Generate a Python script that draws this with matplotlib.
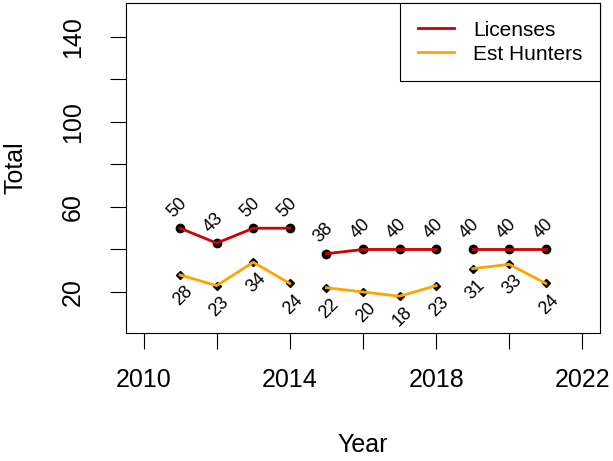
import numpy as np
import matplotlib.pyplot as plt

plt.rcParams['font.family'] = ['Liberation Sans', 'DejaVu Sans']

# three segments of years (gaps between them)
years = [[2011, 2012, 2013, 2014], [2015, 2016, 2017, 2018], [2019, 2020, 2021]]
licenses = [[50, 43, 50, 50], [38, 40, 40, 40], [40, 40, 40]]
hunters = [[28, 23, 34, 24], [22, 20, 18, 23], [31, 33, 24]]

red = '#CD0000'
orange = '#FFA500'

fig = plt.figure(figsize=(6.13, 4.61), dpi=100)
ax = fig.add_axes([0.2055, 0.2777, 0.7733, 0.7158])

for i, (yr, lic, hun) in enumerate(zip(years, licenses, hunters)):
    ax.plot(yr, lic, color='black', marker='o', ms=6, lw=0, zorder=2)
    ax.plot(yr, lic, color=red, lw=2, zorder=3, label='Licenses' if i == 0 else None)
    ax.plot(yr, hun, color='black', marker='D', ms=4, lw=0, zorder=2)
    ax.plot(yr, hun, color=orange, lw=2, zorder=3, label='Est Hunters' if i == 0 else None)
    for x, v in zip(yr, lic):
        ax.annotate(str(v), (x, v), xytext=(-2, 15), textcoords='offset points',
                    ha='center', va='center', rotation=45, fontsize=13)
    for x, v in zip(yr, hun):
        ax.annotate(str(v), (x, v), xytext=(2, -15), textcoords='offset points',
                    ha='center', va='center', rotation=45, fontsize=13)

ax.set_xlim(2009.52, 2022.48)
ax.set_ylim(0.7, 156)
ax.set_xticks(np.arange(2010, 2023, 2))
ax.set_xticklabels(['2010', '', '2014', '', '2018', '', '2022'])
ax.set_yticks(np.arange(20, 141, 20))
ax.set_yticklabels(['20', '', '60', '', '100', '', '140'], rotation=90, va='center')
ax.tick_params(labelsize=18, length=11.5, width=0.8)
ax.tick_params(axis='x', pad=14)
ax.tick_params(axis='y', pad=18)
for s in ax.spines.values():
    s.set_linewidth(0.8)

ax.set_xlabel('Year', fontsize=18, va='center')
ax.set_ylabel('Total', fontsize=18, va='center')
ax.xaxis.set_label_coords(0.5, -0.339)
ax.yaxis.set_label_coords(-0.234, 0.5)

leg = ax.legend(loc='upper right', fontsize=15, fancybox=False, edgecolor='black',
                framealpha=1, borderaxespad=0, handlelength=1.75, handletextpad=0.9,
                borderpad=0.85, labelspacing=0.24)
leg.get_frame().set_linewidth(0.8)

fig.savefig('out.png', dpi=100)
